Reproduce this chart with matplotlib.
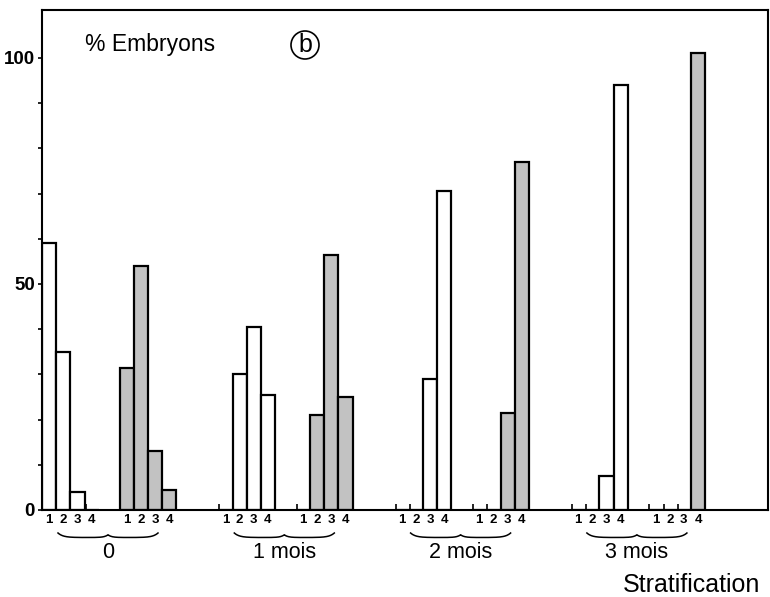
import matplotlib.pyplot as plt
import matplotlib.transforms as mtransforms
import numpy as np

plt.rcParams['font.family'] = ['Liberation Sans', 'DejaVu Sans']

# durées de stratification et stades
periodes = ['0', '1 mois', '2 mois', '3 mois']
stades = ['1', '2', '3', '4']
# % embryons, barres blanches puis barres grises, par période
blanc = [[59, 35, 4, 0], [0, 30, 40.5, 25.5], [0, 0, 29, 70.5], [0, 0, 7.5, 94]]
gris = [[31.5, 54, 13, 4.5], [0, 21, 56.5, 25], [0, 0, 21.5, 77], [0, 0, 0, 101]]

# mise en page (unités = pixels depuis l'axe gauche)
pas = 176.3
decal_gris = 77.5
w = 14.2

fig = plt.figure(figsize=(7.7, 5.97), dpi=100)
ax = fig.add_axes([42 / 770, 87 / 597, 726 / 770, 500 / 597])

centres, labels, zeros = [], [], []
for k in range(len(periodes)):
    for serie, off, fc in ((blanc[k], 0, 'white'), (gris[k], decal_gris, '#c2c2c2')):
        x0 = k * pas + off
        xs = x0 + w * np.arange(4) + w / 2
        ax.bar(xs, serie, width=w, color=fc, edgecolor='black', linewidth=1.6, zorder=2)
        centres += list(xs)
        labels += stades
        zeros += [x - w / 2 + 1 for x, v in zip(xs, serie) if v == 0]

ax.set_xlim(0, 726)
ax.set_ylim(0, 110.6)
ax.set_xticks(centres)
ax.set_xticklabels(labels, fontsize=9.5, fontweight='bold')
ax.set_xticks(zeros, minor=True)
ax.tick_params(axis='x', which='major', length=0, pad=3)
ax.tick_params(axis='x', which='minor', length=4, direction='in', width=1.2)

ax.set_yticks([0, 50, 100])
ax.set_yticklabels(['0', '50', '100'], fontsize=13.5, fontweight='bold')
ax.set_yticks(range(10, 110, 10), minor=True)
ax.tick_params(axis='y', which='both', length=3, width=1.2, pad=2)
for s in ax.spines.values():
    s.set_linewidth(1.5)

# accolades sous chaque période
trans = mtransforms.blended_transform_factory(ax.transData, ax.transAxes)
u = np.linspace(0, 1, 80)
d = 4.5
forme = -d * (1 - np.exp(-u * 10)) + 0.6 * d * np.exp(-(1 - u) * 14)
for k, nom in enumerate(periodes):
    c = k * pas + 66
    demi = 50
    yb = (-23 + forme) / 500
    xl = c - demi + demi * u
    xr = c + demi - demi * u
    ax.plot(np.r_[xl, xr[::-1]], np.r_[yb, yb[::-1]], color='black', lw=1.1,
            transform=trans, clip_on=False)
    ax.text(c, -42 / 500, nom, transform=trans, ha='center', va='center', fontsize=15.5)

fig.text(85 / 770, 1 - 44 / 597, '% Embryons', fontsize=16.5, va='center')
fig.text(305 / 770, 1 - 45 / 597, 'b', fontsize=18, ha='center', va='center',
         bbox=dict(boxstyle='circle,pad=0.08', fc='none', ec='black', lw=1.2))
fig.text(760 / 770, 1 - 585 / 597, 'Stratification', fontsize=18, ha='right', va='center')

fig.savefig('out.png', dpi=100)
